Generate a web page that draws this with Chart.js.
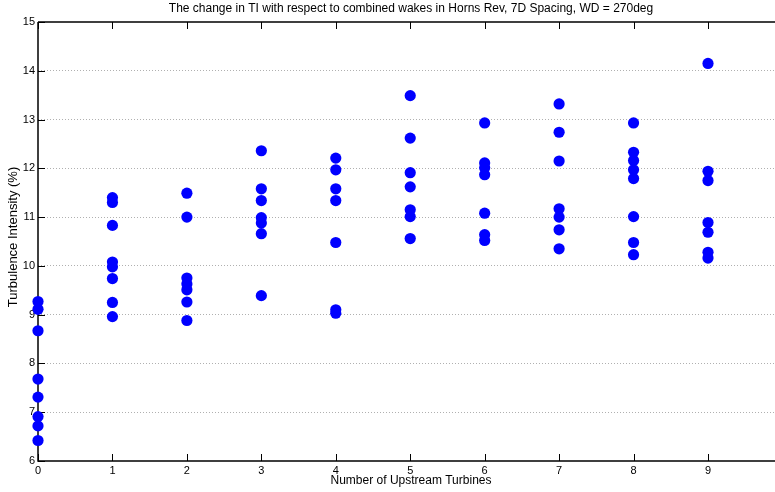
<!DOCTYPE html>
<html>
<head>
<meta charset="utf-8">
<title>TI vs upstream turbines</title>
<script src="https://cdn.jsdelivr.net/npm/chart.js@4"></script>
<style>
  html, body { margin: 0; padding: 0; background: #fff; }
  #wrap { width: 775px; height: 492px; }
</style>
</head>
<body>
<div id="wrap"><canvas id="c" width="775" height="492"></canvas></div>
<script>
// Turbulence intensity (%) for each count of upstream turbines
const upstreamCounts = [0, 1, 2, 3, 4, 5, 6, 7, 8, 9];
const ti0 = [9.27, 9.11, 8.67, 7.68, 7.31, 6.91, 6.72, 6.42];
const ti1 = [11.40, 11.30, 10.83, 10.08, 9.98, 9.74, 9.25, 8.96];
const ti2 = [11.49, 11.00, 9.75, 9.63, 9.51, 9.26, 8.88];
const ti3 = [12.36, 11.58, 11.34, 10.99, 10.88, 10.66, 9.39];
const ti4 = [12.21, 11.97, 11.58, 11.34, 10.48, 9.10, 9.03];
const ti5 = [13.49, 12.62, 11.91, 11.62, 11.15, 11.01, 10.56];
const ti6 = [12.93, 12.11, 12.01, 11.87, 11.08, 10.64, 10.52];
const ti7 = [13.32, 12.74, 12.15, 11.17, 11.00, 10.74, 10.35];
const ti8 = [12.93, 12.33, 12.16, 11.97, 11.79, 11.01, 10.48, 10.23];
const ti9 = [14.15, 11.94, 11.75, 10.89, 10.69, 10.28, 10.16];
const tiByCount = [ti0, ti1, ti2, ti3, ti4, ti5, ti6, ti7, ti8, ti9];

const xTicks = [0, 1, 2, 3, 4, 5, 6, 7, 8, 9];
const yTicks = [6, 7, 8, 9, 10, 11, 12, 13, 14, 15];

const titleText = 'The change in TI with respect to combined wakes in Horns Rev, 7D Spacing, WD = 270deg';
const xTitle = 'Number of Upstream Turbines';
const yTitle = 'Turbulence Intensity (%)';

const points = [];
upstreamCounts.forEach((n, i) => {
  tiByCount[i].forEach(v => points.push({ x: n, y: v }));
});

const FONT = 'Liberation Sans, Arial, Helvetica, sans-serif';

// Box frame with inward tick marks (beneath the markers) and the text labels
const framePlugin = {
  id: 'frame',
  beforeDatasetsDraw(chart) {
    const { ctx, chartArea: a, scales: { x, y } } = chart;
    const tick = 7;
    ctx.save();
    ctx.strokeStyle = '#000';
    ctx.lineWidth = 1.5;
    ctx.beginPath();
    ctx.moveTo(a.left, a.top);
    ctx.lineTo(a.right + 2, a.top);
    ctx.moveTo(a.left, a.top);
    ctx.lineTo(a.left, a.bottom);
    ctx.lineTo(a.right + 2, a.bottom);
    ctx.stroke();
    ctx.lineWidth = 1;
    ctx.beginPath();
    xTicks.forEach(v => {
      const px = Math.round(x.getPixelForValue(v)) + 0.5;
      ctx.moveTo(px, a.bottom);
      ctx.lineTo(px, a.bottom - tick);
      ctx.moveTo(px, a.top);
      ctx.lineTo(px, a.top + tick);
    });
    yTicks.forEach(v => {
      const py = Math.round(y.getPixelForValue(v)) + 0.5;
      ctx.moveTo(a.left, py);
      ctx.lineTo(a.left + tick, py);
    });
    ctx.stroke();
    ctx.restore();
  },
  afterDraw(chart) {
    const { ctx } = chart;
    const cx = 411;
    ctx.save();
    ctx.fillStyle = '#000';
    ctx.font = '12px ' + FONT;
    ctx.textAlign = 'center';
    ctx.textBaseline = 'middle';
    ctx.fillText(titleText, cx, 9);
    ctx.fillText(xTitle, cx, 481);
    ctx.font = '13px ' + FONT;
    ctx.translate(13, 237);
    ctx.rotate(-Math.PI / 2);
    ctx.fillText(yTitle, 0, 0);
    ctx.restore();
  }
};

new Chart(document.getElementById('c'), {
  type: 'scatter',
  data: {
    datasets: [{
      data: points,
      backgroundColor: '#0000ff',
      borderWidth: 0,
      pointRadius: 5.6,
      pointHoverRadius: 5.6,
      clip: false
    }]
  },
  options: {
    responsive: false,
    animation: false,
    events: [],
    layout: { autoPadding: false, padding: { left: 0, right: 0, top: 22, bottom: 0 } },
    plugins: { legend: { display: false }, title: { display: false }, tooltip: { enabled: false } },
    scales: {
      x: {
        type: 'linear',
        min: 0,
        max: 9.9,
        afterBuildTicks: s => { s.ticks = xTicks.map(v => ({ value: v })); },
        afterFit: s => { s.height = 31; s.paddingRight = 0; },
        ticks: { color: '#000', font: { family: FONT, size: 11 }, padding: 3, maxRotation: 0, autoSkip: false },
        grid: { display: false, drawTicks: false },
        border: { display: false },
        title: { display: false }
      },
      y: {
        type: 'linear',
        min: 6,
        max: 15,
        afterBuildTicks: s => { s.ticks = yTicks.map(v => ({ value: v })); },
        afterFit: s => { s.width = 38; },
        ticks: { color: '#000', font: { family: FONT, size: 11 }, padding: 3, autoSkip: false },
        grid: {
          drawTicks: false,
          lineWidth: 1,
          color: c => (c.tick && (c.tick.value === 6 || c.tick.value === 15)) ? 'rgba(0,0,0,0)' : '#b0b0b0'
        },
        border: { display: false, dash: [1, 2] },
        title: { display: false }
      }
    }
  },
  plugins: [framePlugin]
});
</script>
</body>
</html>
